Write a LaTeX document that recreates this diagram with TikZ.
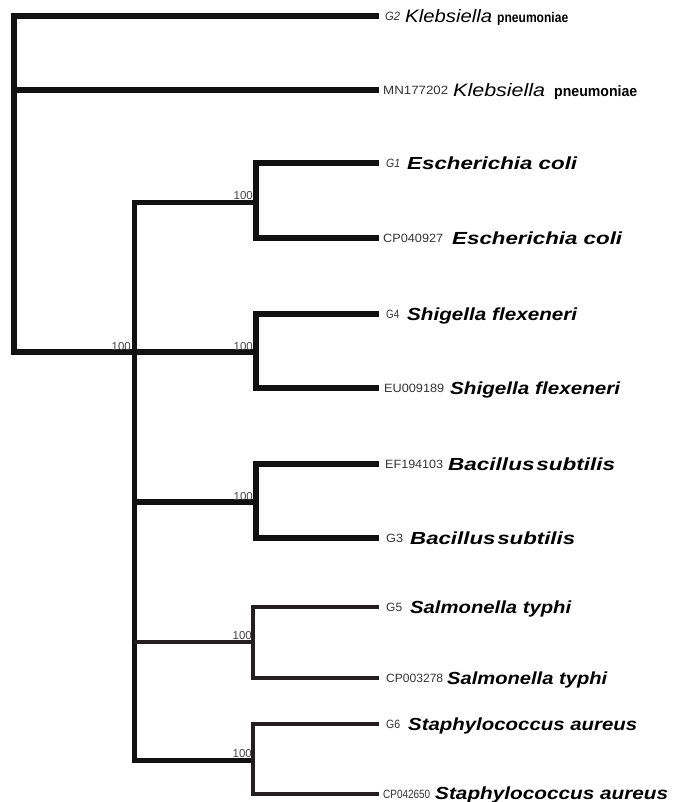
\documentclass[tikz,border=0pt]{standalone}
\usepackage{fontspec}
\setmainfont{Liberation Sans}
\usepackage{graphicx}
\newcommand\fitw[2]{\resizebox{#1pt}{\height}{#2}}
\definecolor{codegray}{HTML}{333333}
\definecolor{bootgray}{HTML}{444444}
\definecolor{linedark}{HTML}{111111}
\definecolor{linelow}{HTML}{231F20}
\begin{document}
\begin{tikzpicture}[x=1pt,y=-1pt,
  br/.style={draw=linedark,line width=5.5pt,line join=miter},
  brm/.style={draw=linedark,line width=5pt,line join=miter},
  brt/.style={draw=linelow,line width=4pt,line join=miter},
  code/.style={inner sep=0pt,anchor=base west,text=codegray,font=\fontsize{12}{14}\selectfont},
  sp/.style={inner sep=0pt,anchor=base west,text=black,font=\fontsize{17.5}{19}\selectfont\bfseries\itshape},
  kleb/.style={inner sep=0pt,anchor=base west,text=black,font=\fontsize{18}{20}\selectfont\itshape},
  pneu/.style={inner sep=0pt,anchor=base west,text=black,font=\fontsize{15}{17}\selectfont\bfseries},
  boot/.style={inner sep=0pt,anchor=base east,text=bootgray,font=\fontsize{11.5}{12}\selectfont}]
\useasboundingbox (0,0) rectangle (673,802);
% internal nodes
\coordinate (r)   at (14,184);
\coordinate (n1)  at (134,352);
\coordinate (cE)  at (256,203);
\coordinate (cS)  at (256,352);
\coordinate (cB)  at (256,502);
\coordinate (cSa) at (253,642);
\coordinate (cSt) at (253,760);
% leaves
\coordinate (lG2)  at (379,16);
\coordinate (lMN)  at (379,90);
\coordinate (lG1)  at (379,163);
\coordinate (lCP1) at (379,238);
\coordinate (lG4)  at (379,314);
\coordinate (lEU)  at (379,388);
\coordinate (lEF)  at (379,464);
\coordinate (lG3)  at (379,538);
\coordinate (lG5)  at (379,607);
\coordinate (lCP3) at (379,678);
\coordinate (lG6)  at (379,724);
\coordinate (lCP4) at (379,794);
% branches
\draw[br] (lG2) -| (r) |- (n1);
\draw[br] (r |- lMN) -- (lMN);
\draw[br] (n1) -- (cS);
\draw[brm] (cE) -| (n1) |- (cSt);
\draw[br] (n1 |- cB) -- (cB);
\draw[brt] (n1 |- cSa) -- (cSa);
\draw[br] (lG1) -| (cE) |- (lCP1);
\draw[br] (lG4) -| (cS) |- (lEU);
\draw[br] (lEF) -| (cB) |- (lG3);
\draw[brt] (lG5) -| (cSa) |- (lCP3);
\draw[brt] (lG6) -| (cSt) |- (lCP4);
% bootstrap values
\node[boot] (b0) at (131,350) {100};
\node[boot] (b1) at (253,200) {100};
\node[boot] (b2) at (253,350) {100};
\node[boot] (b3) at (253,500) {100};
\node[boot] (b4) at (252,639) {100};
\node[boot] (b5) at (252,757) {100};
% labels
\node[code] (tG2) at (385,20.5) {\fitw{15}{\itshape G2}};
\node[kleb] (kG2) at (405,22.5) {\fitw{87}{Klebsiella}};
\node[pneu,font=\fontsize{14}{16}\selectfont\bfseries] (pG2) at (497,22.5) {\fitw{71}{pneumoniae}};
\node[code] (tMN) at (383,94.5) {\fitw{65}{MN177202}};
\node[kleb] (kMN) at (453,96.5) {\fitw{92}{Klebsiella}};
\node[pneu] (pMN) at (554,96.5) {\fitw{83}{pneumoniae}};
\node[code] (tG1) at (386,167.5) {\fitw{14}{\itshape G1}};
\node[sp] (sG1) at (407,169.5) {\fitw{170}{Escherichia coli}};
\node[code] (tCP1) at (383,242.5) {\fitw{60}{CP040927}};
\node[sp] (sCP1) at (452,244.5) {\fitw{170}{Escherichia coli}};
\node[code] (tG4) at (386,318.5) {\fitw{13}{G4}};
\node[sp] (sG4) at (407,320.5) {\fitw{170}{Shigella flexeneri}};
\node[code] (tEU) at (384,392.5) {\fitw{60}{EU009189}};
\node[sp] (sEU) at (450,394.5) {\fitw{170}{Shigella flexeneri}};
\node[code] (tEF) at (385,468.5) {\fitw{58}{EF194103}};
\node[sp] (sEF) at (448,470.5) {\fitw{167}{Bacillus\hspace{1.5pt}subtilis}};
\node[code] (tG3) at (386,542.5) {\fitw{17}{G3}};
\node[sp] (sG3) at (410,544.5) {\fitw{165}{Bacillus\hspace{1.5pt}subtilis}};
\node[code] (tG5) at (386,611.5) {\fitw{16}{G5}};
\node[sp] (sG5) at (410,613.5) {\fitw{161}{Salmonella typhi}};
\node[code] (tCP3) at (386,682.5) {\fitw{57}{CP003278}};
\node[sp] (sCP3) at (447,684.5) {\fitw{160}{Salmonella typhi}};
\node[code] (tG6) at (386,728.5) {\fitw{14}{G6}};
\node[sp] (sG6) at (408,730.5) {\fitw{229}{Staphylococcus aureus}};
\node[code] (tCP4) at (383,798.5) {\fitw{47}{CP042650}};
\node[sp] (sCP4) at (435,799) {\fitw{233}{Staphylococcus aureus}};
\end{tikzpicture}
\end{document}
